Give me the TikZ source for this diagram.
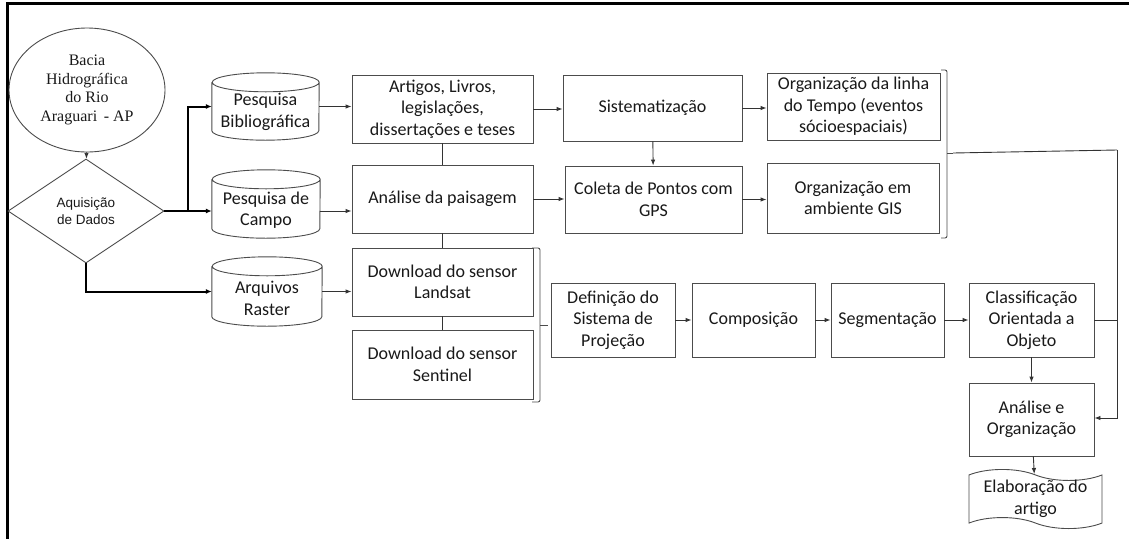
\documentclass[tikz,border=0pt]{standalone}
\usepackage{fontspec}
\setmainfont{Carlito}
\newfontfamily\timesf{Liberation Serif}
\newfontfamily\arialf{Liberation Sans}
\usetikzlibrary{shapes.geometric,shapes.symbols,arrows.meta,calc}
\tikzset{
  boxline/.style={draw=black!70, line width=0.9pt},
  txt/.style={align=center, inner sep=0pt, text=black!90, font=\fontsize{18}{21.5}\selectfont},
  box/.style={rectangle, boxline, fill=white, txt},
  sz/.style 2 args={minimum width=#1pt, minimum height=#2pt},
  cylbody/.style={rectangle, draw=none, inner sep=0pt},
  conn/.style={draw=black!80, line width=0.9pt},
  arr/.style={conn, -{Latex[length=6pt,width=4.5pt]}},
  thickarr/.style={draw=black, line width=2pt, -{Latex[length=6pt,width=5pt]}},
  frame/.style={draw=black, line width=3pt},
}
\newcommand\cylout[3]{%
  \draw[boxline] ([yshift=-#3]#1.north west) -- ([yshift=#3]#1.south west)
    arc[start angle=180,end angle=360,x radius=#2,y radius=#3]
    -- ([yshift=-#3]#1.north east)
    arc[start angle=0,end angle=360,x radius=#2,y radius=#3];}
\begin{document}
\begin{tikzpicture}[x=1pt,y=-1pt]
\fill[white] (0,0) rectangle (1129,539);
\useasboundingbox (0,0) rectangle (1129,539);
% frame
\coordinate (ftl) at (7,3);
\coordinate (ftr) at (1129,3);
\coordinate (fbl) at (7,539);
\draw[frame] (ftr) -- (ftl) -- (fbl);

% start
\node[ellipse, boxline, sz={156}{124}, inner sep=0pt, align=center, text=black!90,
      font=\timesf\fontsize{16}{18.5}\selectfont] (bac) at (87,90)
      {Bacia\\Hidrográfica\\do Rio\\Araguari \,- AP};
\node[diamond, boxline, sz={156}{104}, inner sep=0pt, align=center, text=black!90,
      font=\arialf\fontsize{13.5}{16.5}\selectfont] (aq) at (86,211)
      {Aquisição\\de Dados};

% cylinders
\node[cylbody, sz={107}{67}] (pb) at (265.5,106.5) {};
\node[cylbody, sz={108}{68}] (pc) at (266,204) {};
\node[cylbody, sz={110}{69}] (ar) at (267,291.5) {};
\cylout{pb}{53.5pt}{9.5pt}
\cylout{pc}{54pt}{9.5pt}
\cylout{ar}{55pt}{9.5pt}
\node[txt] (pbt) at (265.5,112) {Pesquisa\\Bibliográfica};
\node[txt] (pct) at (266,210) {Pesquisa de\\Campo};
\node[txt] (art2) at (267,298.5) {Arquivos\\Raster};

% boxes
\node[box, sz={181}{68}] (art) at (442.5,109) {Artigos, Livros,\\legislações,\\dissertações e teses};
\node[box, sz={179}{66}] (sis) at (652.5,108) {Sistematização};
\node[box, sz={173}{67}] (org) at (853.5,106.5) {Organização da linha\\do Tempo (eventos\\sócioespaciais)};
\node[box, sz={181}{68}] (ana) at (442.5,199) {Análise da paisagem};
\node[box, sz={177}{67}] (col) at (653.5,199.5) {Coleta de Pontos com\\GPS};
\node[box, sz={172}{70}] (gis) at (853,198) {Organização em\\ambiente GIS};
\node[box, sz={181}{68}] (lan) at (442.5,282) {Download do sensor\\Landsat};
\node[box, sz={181}{69}] (sen) at (442.5,364.5) {Download do sensor\\Sentinel};
\node[box, sz={124}{74}] (def) at (613,320) {Definição do\\Sistema de\\Projeção};
\node[box, sz={123}{74}] (com) at (753.5,320) {Composição};
\node[box, sz={113}{74}] (seg) at (887.5,320) {Segmentação};
\node[box, sz={125}{74}] (cla) at (1031.5,320) {Classificação\\Orientada a\\Objeto};
\node[box, sz={125}{73}] (aor) at (1031.5,419.5) {Análise e\\Organização};
\node[tape, boxline, fill=white, txt, sz={133}{56}, tape bend top=out and in,
      tape bend bottom=out and in, tape bend height=11pt] (ela) at (1035.5,499)
      {Elaboração do\\artigo};

% connectors from start
\draw[arr] (bac) -- (aq);
\coordinate (jn) at (188,211);
\draw[thickarr] (aq.east) -- (jn) |- (pb.west);
\draw[thickarr] (aq.east) -- (aq.east -| pc.west);
\draw[thickarr] (aq.south) |- (ar.west);

% cylinders to boxes
\draw[arr] (pb.east) -- (pb.east -| art.west);
\draw[arr] (aq.east -| pc.east) -- (aq.east -| ana.west);
\draw[arr] (ar.east) -- (ar.east -| lan.west);

% middle
\draw[conn] (art) -- (ana);
\draw[conn] (ana) -- (lan);
\draw[conn] (lan) -- (sen);
\draw[arr] (art.east) -- (art.east -| sis.west);
\draw[arr] (sis) -- (col);
\draw[arr] (ana.east) -- (ana.east -| col.west);
\draw[arr] (sis.east) -- (sis.east -| org.west);
\draw[arr] (col.east) -- (col.east -| gis.west);

% bracket 1
\coordinate (b1t) at (532,248);
\coordinate (b1b) at (532,402);
\coordinate (b1m) at (548,325);
\draw[boxline, rounded corners=2pt] (b1t) -- (540,248) -- (540,402) -- (b1b);
\draw[boxline] (540,325) -- (b1m);

\draw[arr] (def) -- (com);
\draw[arr] (com) -- (seg);
\draw[arr] (seg) -- (cla);
\draw[arr] (cla) -- (aor);
\draw[arr] (aor) -- (ela);

% bracket 2
\coordinate (b2t) at (941,70);
\coordinate (b2b) at (941,238);
\coordinate (b2m) at (953,153);
\draw[boxline, rounded corners=2pt] (b2t) -- (947,70) -- (947,238) -- (b2b);
\draw[boxline] (947,153) -- (b2m);

% right collector
\coordinate (rc) at (1117,150);
\coordinate (rb) at (1117,418);
\draw[conn] (b2m) -- (rc);
\draw[arr] (rc) -- (rb) -- (rb -| aor.east);
\draw[conn] (cla.east) -- (cla.east -| rc);
\end{tikzpicture}
\end{document}
